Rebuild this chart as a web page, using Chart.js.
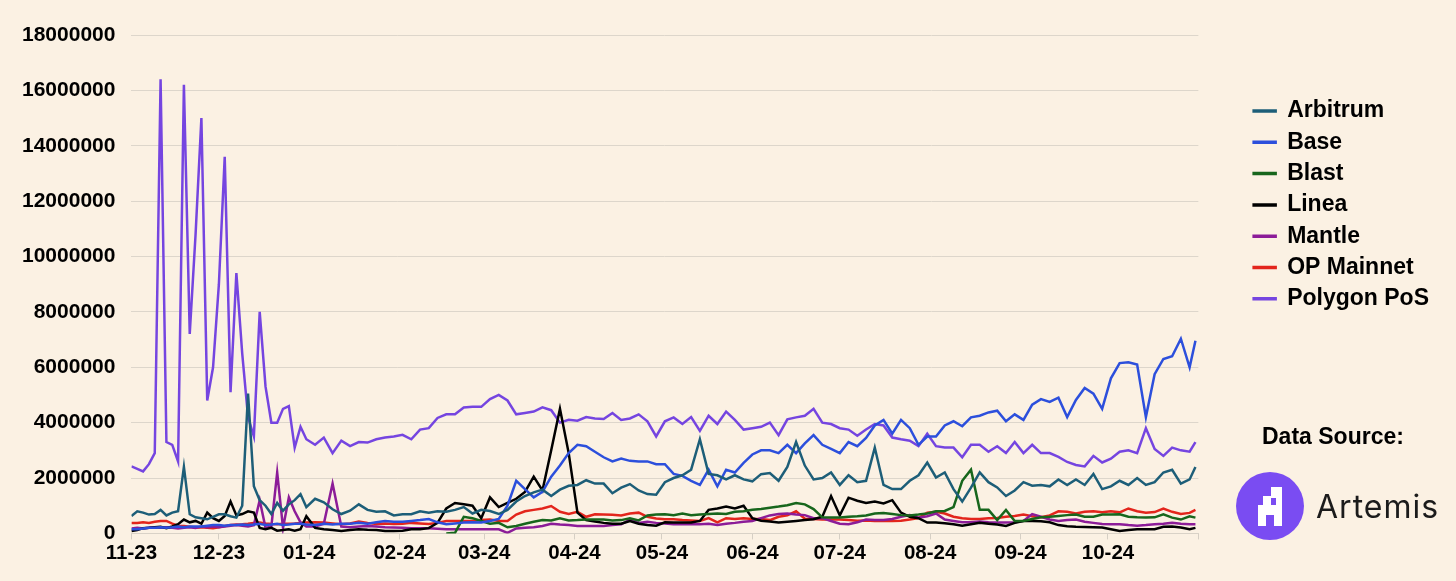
<!DOCTYPE html>
<html>
<head>
    <title></title>
    <script src="https://cdn.jsdelivr.net/npm/chart.js@4.4.1/dist/chart.umd.min.js"></script>
    <style>
        body { margin: 0; background: #fbf1e3; }
        #wrap { position: relative; width: 1456px; height: 581px; background: #fbf1e3; }
        #src { position: absolute; left: 1262px; top: 423px; font: bold 23px "Liberation Sans", Arial, sans-serif; color: #000; }
        #logo { position: absolute; left: 1235px; top: 471px; }
        #artemis { position: absolute; left: 1316px; top: 487px; font: 400 32px Inter, "Open Sans", sans-serif; color: #1b1b1b; letter-spacing: 1px; }
    </style>
</head>
<body>
    <div id="wrap">
        <canvas id="myChart" width="1456" height="581"></canvas>
        <div id="src">Data Source:</div>
        <svg id="logo" width="70" height="70" viewBox="0 0 70 70">
            <circle cx="35" cy="35" r="34" fill="#7a4cf2"/>
            <rect x="36" y="16" width="11" height="11" fill="#fff"/>
            <rect x="28" y="25" width="8" height="9" fill="#fff"/>
            <rect x="23" y="34" width="24" height="10" fill="#fff"/>
            <rect x="41" y="27" width="6" height="7" fill="#fff"/>
            <rect x="23" y="44" width="8" height="11" fill="#fff"/>
            <rect x="39" y="44" width="8" height="11" fill="#fff"/>
        </svg>
        <div id="artemis">Artemis</div>
    </div>
    <script>
        // day offsets from 2023-11-01
        var days = [0,2,4,6,8,10,12,14,16,18,20,22,24,26,28,30,32,34,36,38,40,42,44,46,48,50,52,54,56,58,60,
            63,66,69,72,75,78,81,84,87,90,93,96,99,102,105,108,111,114,117,120,123,126,129,132,135,138,141,144,147,150,
            153,156,159,162,165,168,171,174,177,180,183,186,189,192,195,198,201,204,207,210,213,216,219,222,225,228,231,234,237,240,
            243,246,249,252,255,258,261,264,267,270,273,276,279,282,285,288,291,294,297,300,303,306,309,312,315,318,321,324,327,330,
            333,336,339,342,345,348,351,354,357,360,363,365];

        var monthStarts = [0,30,61,92,121,152,182,213,243,274,305,335,366];
        var monthLabels = ['11-23','12-23','01-24','02-24','03-24','04-24','05-24','06-24','07-24','08-24','09-24','10-24',''];

        // values in millions
        var arbitrum = [0.63,0.8,0.75,0.68,0.7,0.85,0.65,0.75,0.8,2.4,0.69,0.58,0.55,0.51,0.6,0.69,0.69,0.62,0.57,1.0,5.05,1.7,1.2,1.0,0.7,1.1,0.82,1.05,1.2,1.42,0.95,
            1.25,1.12,0.87,0.7,0.82,1.05,0.85,0.78,0.8,0.65,
            0.69,0.69,0.8,0.75,0.8,0.78,0.85,0.95,0.72,0.85,
            0.81,0.7,0.85,1.15,1.35,1.48,1.58,1.35,1.58,1.72,
            1.75,1.92,1.8,1.8,1.45,1.65,1.78,1.55,1.42,1.4,
            1.85,2.0,2.1,2.3,3.4,2.15,2.1,1.95,2.1,1.95,
            1.88,2.14,2.18,1.9,2.4,3.3,2.45,1.95,2.0,2.2,
            1.75,2.1,1.85,1.9,3.1,1.75,1.6,1.6,1.9,2.1,
            2.56,2.02,2.2,1.6,1.15,1.65,2.2,1.85,1.66,1.35,
            1.55,1.85,1.72,1.75,1.7,1.95,1.75,1.95,1.75,2.15,
            1.6,1.7,1.9,1.75,2.0,1.75,1.85,2.2,2.3,1.8,
            1.95,2.4];
        var base = [0.15,0.15,0.18,0.2,0.2,0.22,0.2,0.22,0.25,0.22,0.25,0.25,0.25,0.28,0.3,0.3,0.28,0.3,0.3,0.32,0.3,0.32,0.35,0.3,0.32,0.35,0.3,0.32,0.35,0.35,0.32,
            0.3,0.35,0.32,0.35,0.35,0.38,0.35,0.4,0.45,0.42,
            0.42,0.45,0.48,0.52,0.4,0.33,0.36,0.39,0.4,0.39,
            0.45,0.52,1.0,1.9,1.6,1.3,1.5,2.05,2.45,2.9,
            3.2,3.15,2.95,2.75,2.6,2.7,2.62,2.6,2.6,2.5,
            2.5,2.15,2.08,1.9,1.75,2.3,1.7,2.3,2.2,2.55,
            2.85,3.0,3.0,2.9,3.2,2.9,3.25,3.55,3.2,3.05,
            2.9,3.3,3.15,3.45,3.9,4.1,3.6,4.1,3.8,3.2,
            3.5,3.5,3.9,4.05,3.87,4.19,4.25,4.37,4.43,4.05,
            4.3,4.1,4.65,4.85,4.75,4.9,4.2,4.82,5.25,5.05,
            4.5,5.6,6.15,6.18,6.1,4.2,5.75,6.3,6.4,7.03,
            6.0,6.96];
        var blast = [null,null,null,null,null,null,null,null,null,null,null,null,null,null,null,null,null,null,null,null,null,null,null,null,null,null,null,null,null,null,null,
            null,null,null,null,null,null,null,null,null,null,
            null,null,null,null,null,0,0.02,0.6,0.55,0.45,
            0.35,0.38,0.22,0.27,0.35,0.42,0.48,0.47,0.55,0.47,
            0.48,0.5,0.5,0.5,0.47,0.48,0.55,0.47,0.65,0.68,
            0.69,0.66,0.72,0.66,0.68,0.7,0.72,0.7,0.78,0.8,
            0.85,0.88,0.93,0.97,1.02,1.1,1.05,0.88,0.58,0.57,
            0.57,0.6,0.62,0.65,0.72,0.74,0.7,0.66,0.65,0.68,
            0.72,0.8,0.81,0.95,1.9,2.3,0.85,0.85,0.48,0.85,
            0.45,0.45,0.52,0.58,0.6,0.63,0.66,0.68,0.6,0.6,
            0.68,0.68,0.69,0.6,0.58,0.57,0.58,0.69,0.57,0.5,
            0.62,0.57];
        var linea = [0.09,0.12,0.19,0.2,0.22,0.24,0.19,0.25,0.33,0.5,0.4,0.45,0.35,0.75,0.55,0.45,0.63,1.15,0.65,0.7,0.8,0.75,0.2,0.15,0.2,0.1,0.12,0.15,0.1,0.15,0.62,
            0.2,0.15,0.12,0.09,0.12,0.15,0.13,0.12,0.09,0.09,
            0.1,0.15,0.15,0.19,0.38,0.9,1.1,1.05,1.0,0.55,
            1.3,0.95,1.1,1.25,1.5,2.05,1.55,3.0,4.5,2.9,
            0.75,0.48,0.43,0.38,0.35,0.35,0.45,0.35,0.3,0.28,
            0.4,0.39,0.39,0.39,0.45,0.85,0.9,0.97,0.9,1.0,
            0.55,0.46,0.43,0.39,0.42,0.45,0.48,0.51,0.6,1.35,
            0.65,1.29,1.18,1.1,1.15,1.08,1.2,0.75,0.6,0.55,
            0.39,0.39,0.37,0.33,0.28,0.33,0.38,0.35,0.32,0.27,
            0.38,0.45,0.45,0.44,0.4,0.3,0.26,0.24,0.23,0.22,
            0.21,0.15,0.09,0.12,0.15,0.15,0.15,0.24,0.25,0.21,
            0.15,0.2];
        var mantle = [0.18,0.2,0.18,0.2,0.22,0.2,0.22,0.2,0.18,0.2,0.22,0.2,0.25,0.22,0.25,0.22,0.25,0.28,0.3,0.28,0.25,0.3,1.2,0.2,0.25,2.2,0.2,1.3,0.8,0.4,0.25,
            0.25,0.35,1.8,0.25,0.22,0.25,0.27,0.25,0.22,0.21,
            0.2,0.19,0.19,0.19,0.17,0.15,0.15,0.15,0.15,0.15,
            0.15,0.15,0.02,0.18,0.2,0.22,0.27,0.35,0.32,0.3,
            0.27,0.27,0.27,0.27,0.3,0.33,0.5,0.38,0.42,0.38,
            0.36,0.33,0.33,0.33,0.33,0.35,0.3,0.35,0.38,0.42,
            0.45,0.55,0.65,0.7,0.72,0.68,0.66,0.55,0.55,0.45,
            0.35,0.33,0.4,0.5,0.48,0.48,0.52,0.6,0.66,0.57,
            0.62,0.72,0.5,0.45,0.4,0.4,0.43,0.4,0.39,0.39,
            0.4,0.45,0.7,0.6,0.5,0.45,0.48,0.5,0.42,0.38,
            0.34,0.33,0.33,0.3,0.28,0.3,0.33,0.35,0.38,0.35,
            0.33,0.33];
        var opMainnet = [0.38,0.38,0.4,0.38,0.42,0.45,0.45,0.35,0.28,0.27,0.24,0.21,0.22,0.2,0.19,0.22,0.27,0.3,0.32,0.33,0.35,0.38,0.39,0.36,0.34,0.33,0.35,0.35,0.36,0.38,0.39,
            0.4,0.39,0.36,0.33,0.36,0.43,0.38,0.34,0.36,0.34,
            0.35,0.38,0.36,0.34,0.38,0.45,0.45,0.45,0.46,0.48,
            0.5,0.45,0.45,0.68,0.8,0.85,0.9,0.99,0.78,0.7,
            0.78,0.6,0.69,0.68,0.67,0.65,0.72,0.75,0.6,0.54,
            0.51,0.51,0.48,0.47,0.45,0.55,0.4,0.55,0.52,0.55,
            0.52,0.52,0.48,0.6,0.65,0.8,0.53,0.52,0.5,0.5,
            0.5,0.48,0.46,0.47,0.45,0.45,0.45,0.46,0.5,0.55,
            0.75,0.78,0.72,0.6,0.55,0.52,0.52,0.55,0.56,0.6,
            0.63,0.68,0.62,0.58,0.65,0.8,0.78,0.72,0.78,0.8,
            0.76,0.8,0.76,0.9,0.8,0.75,0.77,0.9,0.78,0.7,
            0.74,0.85];
        var polygon = [2.42,2.33,2.24,2.5,2.9,16.4,3.3,3.2,2.6,16.2,7.2,10.8,15.0,4.8,6.0,9.0,13.6,5.1,9.4,6.5,4.2,3.5,8.0,5.3,4.0,4.0,4.5,4.6,3.1,3.85,3.4,
            3.2,3.46,2.9,3.35,3.15,3.3,3.28,3.4,3.46,3.5,
            3.56,3.4,3.75,3.8,4.17,4.3,4.3,4.55,4.57,4.57,
            4.85,5.0,4.8,4.3,4.35,4.4,4.55,4.45,4.0,4.1,
            4.07,4.2,4.15,4.13,4.35,4.1,4.15,4.3,4.05,3.5,
            4.05,4.19,3.95,4.2,3.7,4.25,3.95,4.4,4.1,3.75,
            3.8,3.85,4.0,3.55,4.12,4.19,4.25,4.5,4.0,3.95,
            3.8,3.75,3.53,3.75,3.95,3.9,3.46,3.4,3.35,3.15,
            3.6,3.15,3.1,3.1,2.75,3.2,3.2,2.95,3.15,2.9,
            3.3,2.9,3.2,2.9,2.9,2.76,2.58,2.47,2.42,2.8,
            2.56,2.7,2.95,3.0,2.9,3.8,3.05,2.8,3.1,3.0,
            2.95,3.3];

        var names = ['Arbitrum','Base','Blast','Linea','Mantle','OP Mainnet','Polygon PoS'];
        var colors = ['#1d5e78','#2c4fdc','#17661c','#000000','#8c1c98','#e3251c','#7545e0'];
        var series = [arbitrum, base, blast, linea, mantle, opMainnet, polygon];

        function points(vals) {
            return days.map(function(d, i) { return {x: d, y: vals[i]}; });
        }

        var fontFamily = '"Liberation Sans", Arial, sans-serif';

        var chart = new Chart(document.getElementById("myChart"), {
            type: 'line',
            data: {
                datasets: names.map(function(n, i) {
                    return {
                        label: n,
                        data: points(series[i]),
                        borderColor: colors[i],
                        backgroundColor: colors[i],
                        borderWidth: 2.5,
                        pointRadius: 0,
                        tension: 0,
                        spanGaps: false
                    };
                })
            },
            options: {
                responsive: false,
                animation: false,
                layout: {padding: {left: 6, right: 17, top: 35, bottom: 13}},
                plugins: {
                    tooltip: {enabled: false},
                    legend: {
                        position: 'right',
                        align: 'start',
                        title: {display: true, text: ' ', padding: {top: 49, bottom: 0}, font: {size: 6}},
                        labels: {
                            boxWidth: 22,
                            boxHeight: 1,
                            padding: 8.3,
                            color: '#000',
                            font: {family: fontFamily, weight: 'bold', size: 23}
                        }
                    }
                },
                scales: {
                    x: {
                        type: 'linear',
                        min: 0,
                        max: 366,
                        afterBuildTicks: function(axis) {
                            axis.ticks = monthStarts.map(function(v) { return {value: v}; });
                        },
                        ticks: {
                            autoSkip: false,
                            maxRotation: 0,
                            padding: 2,
                            color: '#000',
                            font: {family: fontFamily, weight: 'bold', size: 20.5},
                            callback: function(v) { return monthLabels[monthStarts.indexOf(v)]; }
                        },
                        grid: {drawOnChartArea: false, drawTicks: true, tickLength: 6, color: '#d6cfc4'},
                        border: {display: true, color: '#d9d2c7'}
                    },
                    y: {
                        min: 0,
                        max: 18,
                        ticks: {
                            stepSize: 2,
                            padding: 16,
                            color: '#000',
                            font: {family: fontFamily, weight: 'bold', size: 21},
                            callback: function(v) { return String(Math.round(v * 1000000)); }
                        },
                        grid: {color: '#ddd6cb', drawTicks: false},
                        border: {display: false}
                    },
                    gap: {
                        position: 'right',
                        display: true,
                        min: 0,
                        max: 1,
                        ticks: {display: false},
                        grid: {display: false},
                        border: {display: false},
                        afterFit: function(s) { s.width = 47; }
                    }
                }
            }
        });
    </script>
</body>
</html>
